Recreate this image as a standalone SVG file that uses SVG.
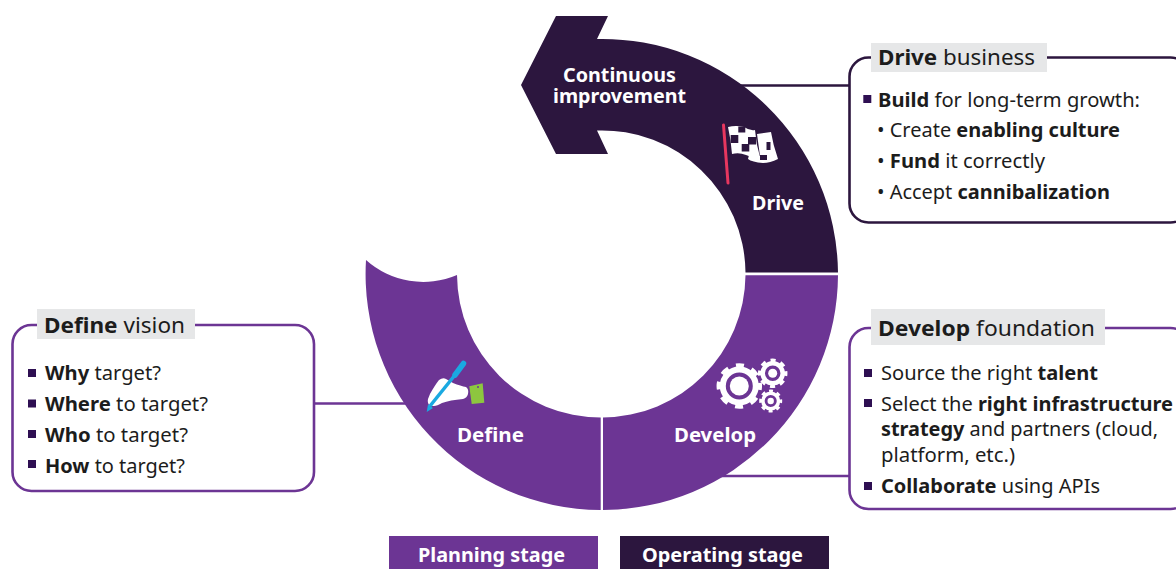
<svg xmlns="http://www.w3.org/2000/svg" width="1176" height="569" viewBox="0 0 1176 569">
<style>
text{font-family:"Noto Sans","Open Sans","Liberation Sans",sans-serif;}
.b{font-weight:700}
.t{font-size:20px;fill:#1c1c1c}
.h{font-size:22px;fill:#1c1c1c}
.w{font-size:20px;fill:#fff;font-weight:700}
.bx{fill:#fff;stroke-width:2.6}
.p{stroke:#6c3594}.d{stroke:#2c163e}
.lb{fill:#e6e7e8}
.sq{fill:#2e0f52}
.fp{fill:#6c3594}.fd{fill:#2c163e}
.c{fill:none;stroke-width:2.6}
.g{fill:none;stroke:#fff}
</style>
<g id="connectors">
<path class="c d" d="M740 85.500H850"/>
<path class="c p" d="M314 403.500H410"/>
<path class="c p" d="M720 476H850"/>
</g>
<g id="drive">
<path class="fd" d="M838 272.500A236 236 0 0 0 597 39L608 16H556L521 85L556 154H608L597 130.500A143.500 143.500 0 0 1 745.500 272.500Z"/>
<text class="w" x="563" y="81.500" textLength="113" lengthAdjust="spacingAndGlyphs">Continuous</text>
<text class="w" x="553" y="102.500" textLength="133" lengthAdjust="spacingAndGlyphs">improvement</text>
<text class="w" x="752" y="210" textLength="52" lengthAdjust="spacingAndGlyphs">Drive</text>
<path d="M723.500 125L728 183" stroke="#e8375f" stroke-width="3" stroke-linecap="round" fill="none"/>
<path fill="#fff" d="M757 134L771 132Q773 145 778 159Q770 163 763 163Q752 162 748 159L749 155L760 156Z"/>
<path fill="#fff" d="M728 127Q736 125 744 127Q750 131 755 130Q756 144 760 157Q752 158 746 155Q739 152 732 154Q731 140 728 127Z"/>
<path fill="#2c163e" d="M738.300 126.500h7v6h-7zM730.700 135h7.600v8h-7.600zM748 137h8v7.500h-8zM741.700 144h7.600v7.500h-7.600zM766.500 142h4v8h-4zM760 155h7v5h-7z"/>
</g>
<g id="develop">
<path class="fp" d="M838 275.300A236 236 0 0 1 603 510V417.500A143.500 143.500 0 0 0 745.500 275.300Z"/>
<text class="w" x="674" y="442" textLength="82" lengthAdjust="spacingAndGlyphs">Develop</text>
<circle class="g" cx="739.300" cy="386" r="16.500" stroke-width="6"/>
<circle class="g" cx="739.300" cy="386" r="20.500" stroke-width="4.500" stroke-dasharray="8.050 8.050" stroke-dashoffset="4"/>
<circle cx="739.300" cy="386" r="9.500" fill="#fff"/>
<circle class="g" cx="772.700" cy="373.300" r="10" stroke-width="4.500"/>
<circle class="g" cx="772.700" cy="373.300" r="13" stroke-width="3.500" stroke-dasharray="5.100 5.100" stroke-dashoffset="2.500"/>
<circle cx="772.700" cy="373.300" r="4.500" fill="#fff"/>
<circle class="g" cx="770.700" cy="401" r="7.800" stroke-width="3.500"/>
<circle class="g" cx="770.700" cy="401" r="10" stroke-width="3" stroke-dasharray="3.930 3.930" stroke-dashoffset="2"/>
<circle cx="770.700" cy="401" r="3.200" fill="#fff"/>
</g>
<g id="define">
<path class="fp" d="M366 260A236 236 0 0 0 600.700 510V417.500A143.500 143.500 0 0 1 457 275A86 86 0 0 1 366 260Z"/>
<text class="w" x="457" y="442" textLength="67" lengthAdjust="spacingAndGlyphs">Define</text>
<path fill="#fff" d="M430 394Q435 385 439 380Q443 377 446 379L453 383Q461 386 466 387Q469 389 468 394Q467 398 463 399Q450 400 442 403Q437 406 434 406L430 406Q427 403 428 399Z"/>
<path d="M430 406L455 375" stroke="#1aa9e1" stroke-width="3.500" fill="none"/>
<path d="M455 375L463.500 363.500" stroke="#1aa9e1" stroke-width="5.500" stroke-linecap="round" fill="none"/>
<path fill="#1aa9e1" d="M426.700 412L428 404.500L433 408Z"/>
<path fill="#8dc63f" d="M469.300 386.200L482.700 383.300L484.300 402.700L471.700 404Z"/>
<circle cx="478" cy="387" r="1" fill="#6c3594"/>
</g>
<g id="box-drive">
<rect class="bx d" x="849.500" y="57.500" width="340" height="165" rx="19"/>
<rect class="lb" x="871" y="43" width="176" height="29"/>
<text class="h" x="878" y="64.500" textLength="157" lengthAdjust="spacingAndGlyphs"><tspan class="b">Drive</tspan> business</text>
<rect class="sq" x="863.300" y="95" width="8" height="8"/>
<text class="t" x="878" y="106.500" textLength="262" lengthAdjust="spacingAndGlyphs"><tspan class="b">Build</tspan> for long-term growth:</text>
<text class="t" x="877" y="137" textLength="243" lengthAdjust="spacingAndGlyphs">• Create <tspan class="b">enabling culture</tspan></text>
<text class="t" x="877" y="167.500" textLength="168" lengthAdjust="spacingAndGlyphs">• <tspan class="b">Fund</tspan> it correctly</text>
<text class="t" x="877" y="198.500" textLength="233" lengthAdjust="spacingAndGlyphs">• Accept <tspan class="b">cannibalization</tspan></text>
</g>
<g id="box-develop">
<rect class="bx p" x="849.500" y="328" width="340" height="181" rx="19"/>
<rect class="lb" x="871" y="309" width="234" height="36"/>
<text class="h" x="878" y="335.500" textLength="217" lengthAdjust="spacingAndGlyphs"><tspan class="b">Develop</tspan> foundation</text>
<rect class="sq" x="864" y="369" width="8" height="8"/>
<text class="t" x="881" y="379.500" textLength="217" lengthAdjust="spacingAndGlyphs">Source the right <tspan class="b">talent</tspan></text>
<rect class="sq" x="864" y="399" width="8" height="8"/>
<text class="t" x="881" y="410.500" textLength="292" lengthAdjust="spacingAndGlyphs">Select the <tspan class="b">right infrastructure</tspan></text>
<text class="t" x="881" y="435.500" textLength="277" lengthAdjust="spacingAndGlyphs"><tspan class="b">strategy</tspan> and partners (cloud,</text>
<text class="t" x="881" y="461.500" textLength="134" lengthAdjust="spacingAndGlyphs">platform, etc.)</text>
<rect class="sq" x="864" y="482" width="8" height="8"/>
<text class="t" x="881" y="492.500" textLength="219" lengthAdjust="spacingAndGlyphs"><tspan class="b">Collaborate</tspan> using APIs</text>
</g>
<g id="box-define">
<rect class="bx p" x="12.500" y="325" width="301.500" height="166" rx="19"/>
<rect class="lb" x="37" y="309" width="158" height="30"/>
<text class="h" x="44" y="332.500" textLength="141" lengthAdjust="spacingAndGlyphs"><tspan class="b">Define</tspan> vision</text>
<rect class="sq" x="28" y="369" width="8" height="8"/>
<text class="t" x="45" y="379.500" textLength="116" lengthAdjust="spacingAndGlyphs"><tspan class="b">Why</tspan> target?</text>
<rect class="sq" x="28" y="399.500" width="8" height="8"/>
<text class="t" x="45" y="410.500" textLength="163" lengthAdjust="spacingAndGlyphs"><tspan class="b">Where</tspan> to target?</text>
<rect class="sq" x="28" y="430" width="8" height="8"/>
<text class="t" x="45" y="441.500" textLength="143" lengthAdjust="spacingAndGlyphs"><tspan class="b">Who</tspan> to target?</text>
<rect class="sq" x="28" y="460" width="8" height="8"/>
<text class="t" x="45" y="472.500" textLength="140" lengthAdjust="spacingAndGlyphs"><tspan class="b">How</tspan> to target?</text>
</g>
<g id="legend-planning">
<rect class="fp" x="389" y="536" width="209" height="33"/>
<text class="w" x="418" y="561.500" textLength="147" lengthAdjust="spacingAndGlyphs">Planning stage</text>
</g>
<g id="legend-operating">
<rect class="fd" x="620" y="536" width="209" height="33"/>
<text class="w" x="642" y="561.500" textLength="161" lengthAdjust="spacingAndGlyphs">Operating stage</text>
</g>
</svg>
